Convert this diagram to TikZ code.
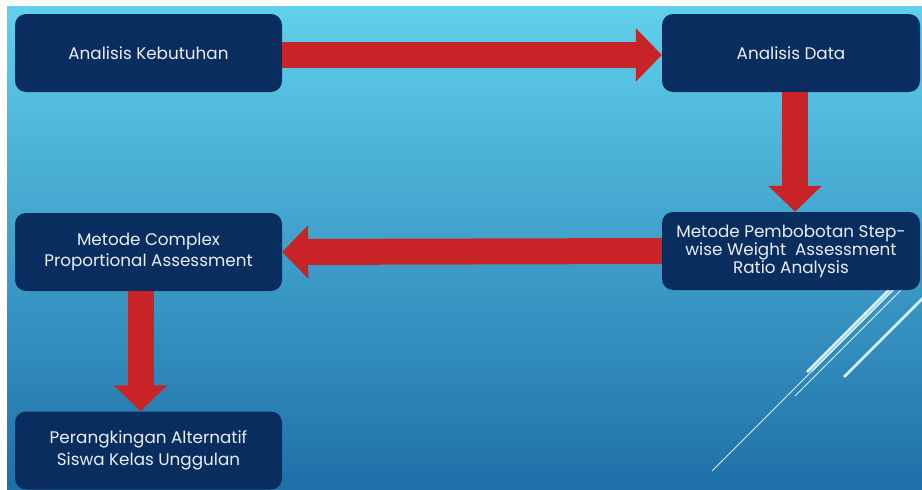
\documentclass[tikz,border=0pt]{standalone}
\usepackage{fontspec}
\setmainfont{Poppins}
\usepackage{xcolor}
\usepackage{tikz}
\usetikzlibrary{positioning}
\usetikzlibrary{arrows.meta}

\definecolor{boxblue}{RGB}{10,45,95}
\definecolor{boxtext}{RGB}{232,238,245}
\definecolor{arrowred}{RGB}{200,36,40}
\definecolor{skytop}{RGB}{96,208,236}
\definecolor{skymid}{RGB}{62,162,210}
\definecolor{skybot}{RGB}{30,112,168}
\definecolor{streak}{RGB}{220,242,252}

\begin{document}
\begin{tikzpicture}[
    x=1pt, y=-1pt,
    box/.style={rectangle, rounded corners=11pt, fill=boxblue, text=boxtext,
        align=center, inner sep=+0pt, minimum width=267pt, minimum height=78pt,
        font=\fontsize{16.8}{21.5}\selectfont},
    flow/.style={arrowred, line width=26pt, -{Triangle[length=26pt, width=52pt]}}
    ]
\useasboundingbox (0,0) rectangle (922,490);
\fill[white] (0,0) rectangle (922,490);
\shade[top color=skytop, middle color=skymid, bottom color=skybot] (7,6) rectangle (922,490);

% streaks behind the step-wise box
\begin{scope}
\clip (7,6) rectangle (922,490);
\draw[streak, line width=1pt]   (712,471) -- (898,285);
\draw[streak, line width=1pt]   (795,396) -- (906,285);
\draw[streak, line width=2.5pt] (807,372) -- (894,285);
\draw[streak, line width=1.5pt] (812,371) -- (898,285);
\draw[streak, line width=2.5pt] (844,377) -- (936,285);
\end{scope}

\node[box] (ak) at (148.5,53)  {Analisis Kebutuhan};
\node[box, minimum width=258pt] (ad) at (791,53) {Analisis Data};
\node[box, minimum width=258pt, font=\fontsize{16.8}{18}\selectfont] (pb) at (791,251)
    {Metode Pembobotan Step-\\wise Weight \ Assessment\\Ratio Analysis};
\node[box] (mc) at (148.5,252) {Metode Complex\\Proportional Assessment};
\node[box] (pk) at (148.5,450.5) {Perangkingan Alternatif\\Siswa Kelas Unggulan};

\draw[flow] ([yshift=-2pt]ak.east) -- ([yshift=-2pt]ad.west);
\draw[flow] ([xshift=4pt]ad.south) -- ([xshift=4pt]pb.north);
\draw[flow] (pb.west) -- (mc.east);
\draw[flow] ([xshift=-8pt]mc.south) -- ([xshift=-8pt]pk.north);

\end{tikzpicture}
\end{document}
